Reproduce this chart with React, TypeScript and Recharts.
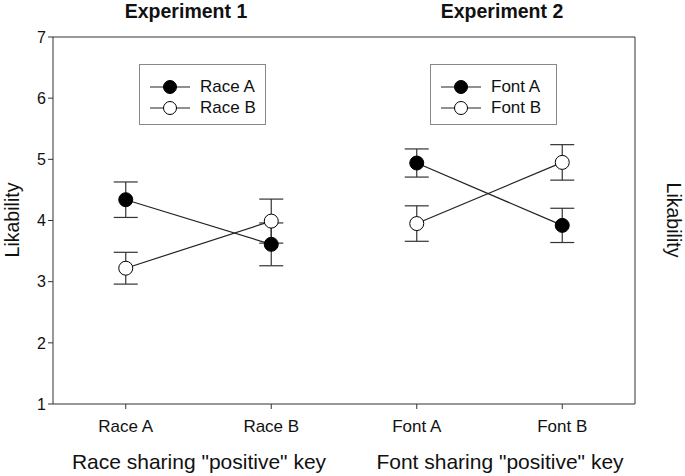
import { ComposedChart, Line, XAxis, YAxis, ErrorBar, ReferenceLine } from 'recharts';

const categories = ['Race A', 'Race B', 'Font A', 'Font B'];
const yTicks = [1, 2, 3, 4, 5, 6, 7];

const raceAMeans = [4.34, 3.61];
const raceAErr = [0.29, 0.35];
const raceBMeans = [3.22, 3.99];
const raceBErr = [0.26, 0.36];

const fontAMeans = [4.94, 3.92];
const fontAErr = [0.23, 0.28];
const fontBMeans = [3.95, 4.95];
const fontBErr = [0.29, 0.29];

const build = (means: number[], errs: number[], offset: number) =>
  means.map((m, i) => ({ x: i + offset, y: m, err: errs[i] }));

const series = [
  { name: 'Race A', data: build(raceAMeans, raceAErr, 0), filled: true },
  { name: 'Race B', data: build(raceBMeans, raceBErr, 0), filled: false },
  { name: 'Font A', data: build(fontAMeans, fontAErr, 2), filled: true },
  { name: 'Font B', data: build(fontBMeans, fontBErr, 2), filled: false },
];

const FONT = 'Arial, "Liberation Sans", sans-serif';
const AXIS = '#333';

function LegendBox({ left, items }: { left: number; items: { name: string; filled: boolean }[] }) {
  return (
    <div
      style={{
        position: 'absolute',
        left,
        top: 64,
        width: 127,
        height: 61,
        border: '1px solid #888',
        background: '#fff',
        boxSizing: 'border-box',
      }}
    >
      {items.map((it, i) => (
        <div
          key={it.name}
          style={{ position: 'absolute', left: 9, top: 12 + i * 21, height: 20, display: 'flex', alignItems: 'center' }}
        >
          <svg width={42} height={20}>
            <line x1={1} y1={10} x2={41} y2={10} stroke="#222" strokeWidth={1.2} />
            <circle cx={21} cy={10} r={6.5} fill={it.filled ? '#000' : '#fff'} stroke="#000" strokeWidth={1} />
          </svg>
          <span style={{ marginLeft: 9, fontSize: 17, fontFamily: FONT, color: '#111' }}>{it.name}</span>
        </div>
      ))}
    </div>
  );
}

const textStyle = { position: 'absolute' as const, fontFamily: FONT, color: '#111', whiteSpace: 'nowrap' as const };

export default function App() {
  return (
    <div style={{ position: 'relative', width: 685, height: 476, background: '#fff' }}>
      <style>{`body{margin:0}`}</style>
      <ComposedChart width={685} height={476} margin={{ top: 37, right: 30, bottom: 42, left: 33 }}>
        <XAxis
          type="number"
          dataKey="x"
          domain={[-0.5, 3.5]}
          ticks={[0, 1, 2, 3]}
          tickFormatter={(v: number) => categories[v]}
          allowDuplicatedCategory={false}
          stroke={AXIS}
          tickSize={5}
          tickMargin={11}
          height={30}
          tick={{ fill: '#111', fontSize: 17, fontFamily: FONT }}
        />
        <YAxis
          yAxisId="left"
          orientation="left"
          domain={[1, 7]}
          ticks={yTicks}
          width={20}
          stroke={AXIS}
          tickSize={5}
          tick={{ fill: '#111', fontSize: 16, fontFamily: FONT }}
        />
        <YAxis
          yAxisId="right"
          orientation="right"
          domain={[1, 7]}
          ticks={yTicks}
          width={20}
          stroke={AXIS}
          tickSize={5}
          tick={{ fill: '#111', fontSize: 16, fontFamily: FONT }}
        />
        <ReferenceLine yAxisId="left" y={7} stroke={AXIS} strokeWidth={1} />
        {series.map((s) => (
          <Line
            key={s.name}
            yAxisId="left"
            data={s.data}
            dataKey="y"
            name={s.name}
            stroke="#222"
            strokeWidth={1.2}
            isAnimationActive={false}
            dot={{ r: 7, fill: s.filled ? '#000' : '#fff', stroke: '#000', strokeWidth: 1 }}
            activeDot={false}
          >
            <ErrorBar dataKey="err" width={12} stroke="#333" strokeWidth={1.2} direction="y" />
          </Line>
        ))}
      </ComposedChart>

      <div style={{ ...textStyle, left: 186, top: 0, transform: 'translateX(-50%)', fontSize: 19.5, fontWeight: 'bold' }}>
        Experiment 1
      </div>
      <div style={{ ...textStyle, left: 502, top: 0, transform: 'translateX(-50%)', fontSize: 19.5, fontWeight: 'bold' }}>
        Experiment 2
      </div>

      <div style={{ ...textStyle, left: 199, top: 450, transform: 'translateX(-50%)', fontSize: 21 }}>
        Race sharing "positive" key
      </div>
      <div style={{ ...textStyle, left: 500, top: 450, transform: 'translateX(-50%)', fontSize: 21 }}>
        Font sharing "positive" key
      </div>

      <div style={{ ...textStyle, left: 12, top: 220, transform: 'translate(-50%, -50%) rotate(-90deg)', fontSize: 19.5 }}>
        Likability
      </div>
      <div style={{ ...textStyle, left: 673, top: 220, transform: 'translate(-50%, -50%) rotate(90deg)', fontSize: 19.5 }}>
        Likability
      </div>

      <LegendBox left={139} items={series.slice(0, 2)} />
      <LegendBox left={430} items={series.slice(2, 4)} />
    </div>
  );
}
